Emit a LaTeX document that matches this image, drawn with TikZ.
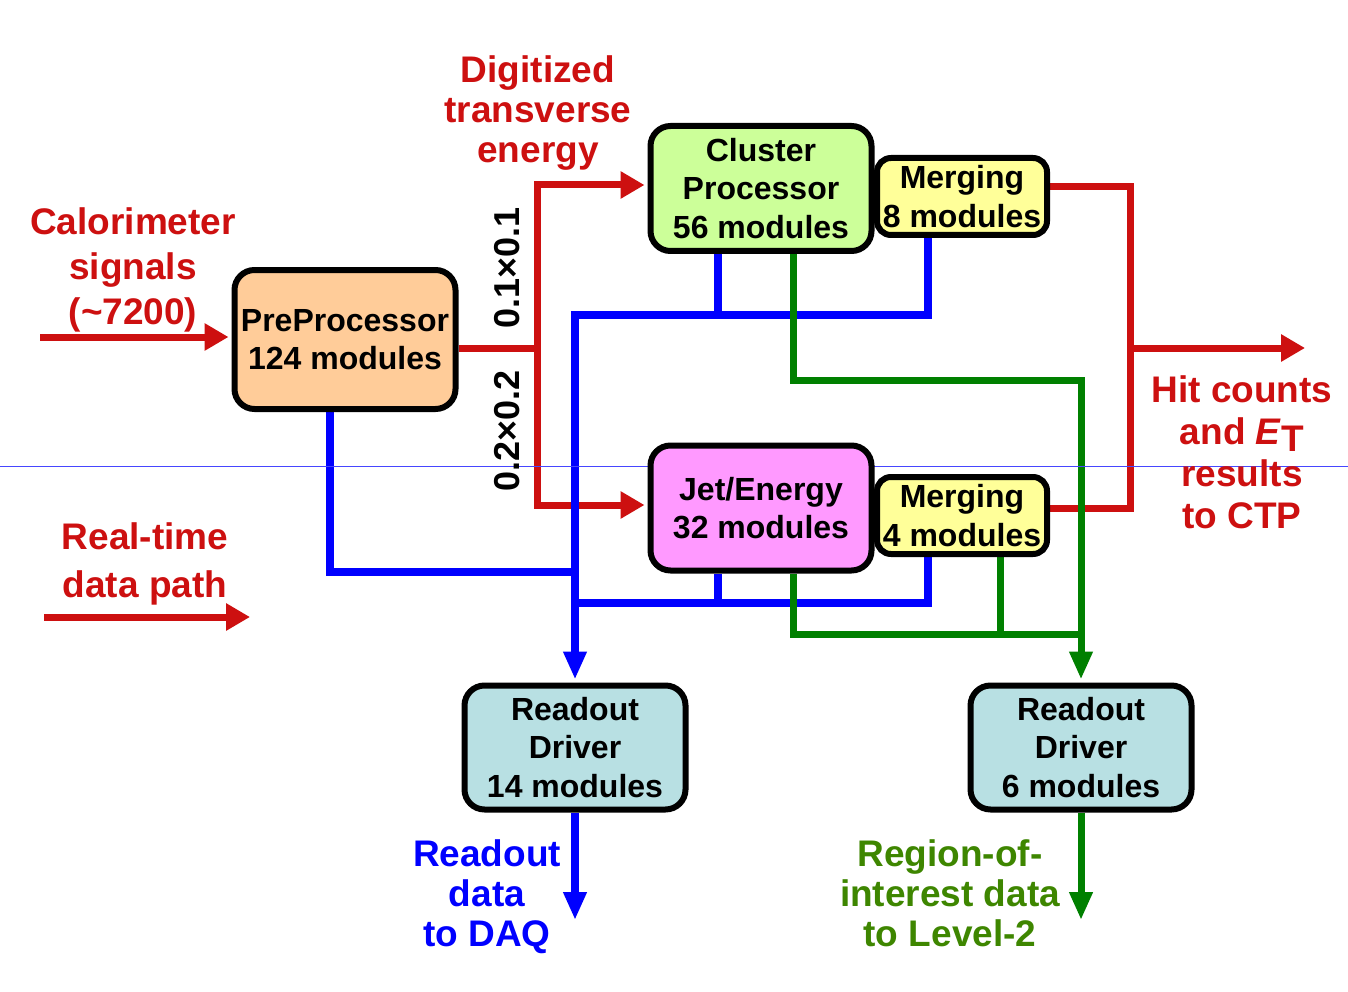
\documentclass[tikz,border=0pt]{standalone}
\usepackage{fontspec}
\setmainfont{Liberation Sans}
\usetikzlibrary{arrows.meta,backgrounds}
\definecolor{cred}{RGB}{205,16,16}
\definecolor{cblue}{RGB}{0,0,255}
\definecolor{cgreen}{RGB}{0,128,0}
\definecolor{ctgreen}{RGB}{62,134,0}
\definecolor{cthin}{RGB}{70,70,255}
\definecolor{fpeach}{RGB}{255,204,153}
\definecolor{fgreen}{RGB}{204,255,153}
\definecolor{fyellow}{RGB}{255,255,153}
\definecolor{fpink}{RGB}{255,153,255}
\definecolor{fcyan}{RGB}{184,224,227}
\begin{document}
\begin{tikzpicture}[x=1pt,y=-1pt,
  blk/.style={draw=black, line width=6pt, rounded corners=20pt, inner sep=0pt, align=center,
    font=\bfseries\fontsize{32}{38.5}\selectfont},
  mrg/.style={blk, rounded corners=14pt, fill=fyellow},
  lbl/.style={font=\bfseries\fontsize{37}{43}\selectfont, align=center, inner sep=0pt},
  rot/.style={font=\bfseries\fontsize{36}{40}\selectfont, inner sep=0pt, rotate=90},
  rl/.style={draw=cred, line width=7pt, line join=miter},
  bl/.style={draw=cblue, line width=8pt, line join=miter},
  gl/.style={draw=cgreen, line width=7pt, line join=miter},
  tipR/.style={-{Triangle[length=24pt,width=26pt]}},
  tipD/.style={-{Triangle[length=28pt,width=22pt]}}
]
\useasboundingbox (0,0) rectangle (1348,992);

% boxes
\node[blk, fill=fpeach, minimum width=221pt, minimum height=139pt] (pp) at (345,339.5) {PreProcessor\\124 modules};
\node[blk, fill=fgreen, minimum width=221pt, minimum height=125pt] (cp) at (761,188.5) {Cluster\\Processor\\56 modules};
\node[mrg, minimum width=170pt, minimum height=77pt] (m8) at (962,196.5) {Merging\\8 modules};
\node[blk, fill=fpink, minimum width=221pt, minimum height=125pt] (je) at (761,508) {Jet/Energy\\32 modules};
\node[mrg, minimum width=170pt, minimum height=77pt] (m4) at (962,515.5) {Merging\\4 modules};
\node[blk, fill=fcyan, minimum width=221pt, minimum height=124pt] (rd1) at (575,747.5) {Readout\\Driver\\14 modules};
\node[blk, fill=fcyan, minimum width=221pt, minimum height=124pt] (rd2) at (1081,747.5) {Readout\\Driver\\6 modules};

% labels
\node[lbl, text=cred, font=\bfseries\fontsize{37}{40}\selectfont] (ldig) at (538,113) {Digitized\\transverse\\energy};
\node[lbl, text=cred, font=\bfseries\fontsize{37}{45}\selectfont] (lcal) at (133,270) {Calorimeter\\signals\\(\char`~7200)};
\node[lbl, text=cred, font=\bfseries\fontsize{37}{48}\selectfont] (lrt) at (145,564) {Real-time\\data path};
\node[lbl, text=cred, font=\bfseries\fontsize{37}{42}\selectfont] (lhit) at (1242,452) {Hit counts\\and \textit{E}\raisebox{-7pt}{T}\\results\\to CTP};
\node[lbl, text=cblue, font=\bfseries\fontsize{37}{40}\selectfont] (ldaq) at (487,897) {Readout\\data\\to DAQ};
\node[lbl, text=ctgreen, font=\bfseries\fontsize{37}{40}\selectfont] (lroi) at (950,893) {Region-of-\\interest data\\to Level-2};
\node[rot] (g11) at (507,268) {0.1×0.1};
\node[rot] (g22) at (507,431) {0.2×0.2};

% junction coordinates
\coordinate (cin) at (40,337);
\coordinate (rj) at (537,348);
\coordinate (rt) at (537,185);
\coordinate (rb) at (537,505);
\coordinate (rr1) at (1130,187);
\coordinate (rr2) at (1130,508);
\coordinate (rrm) at (1130,348);
\coordinate (ctp) at (1305,348);
\coordinate (lg1) at (44,617);
\coordinate (lg2) at (250,617);
\coordinate (b0) at (575,315);
\coordinate (b1) at (718,315);
\coordinate (b2) at (928,315);
\coordinate (b3) at (718,603);
\coordinate (b4) at (928,603);
\coordinate (b5) at (575,603);
\coordinate (b6) at (330,572);
\coordinate (b7) at (575,572);
\coordinate (daq) at (575,920);
\coordinate (g1) at (793,380);
\coordinate (g2) at (1081,380);
\coordinate (g3) at (793,634);
\coordinate (g4) at (1081,634);
\coordinate (g5) at (1000,634);
\coordinate (lv2) at (1081,920);
\coordinate (hl) at (0,466);
\coordinate (hr) at (1348,466);

\begin{scope}[on background layer]
\fill[white] (0,0) rectangle (1348,992);
% red real-time path
\draw[rl, tipR, shorten >=3pt] (cin) -- (pp.west |- cin);
\draw[rl] (pp.east |- rj) -- (rj);
\draw[rl, {Triangle[length=24pt,width=26pt]}-{Triangle[length=24pt,width=26pt]}, shorten <=3pt, shorten >=3pt]
  (cp.west |- rt) -- (rt) -- (rb) -- (je.west |- rb);
\draw[rl] (m8.east |- rr1) -- (rr1) -- (rr2) -- (m4.east |- rr2);
\draw[rl, tipR] (rrm) -- (ctp);
\draw[rl, tipR] (lg1) -- (lg2);
% blue readout path
\draw[bl] (cp.south -| b1) -- (b1);
\draw[bl, tipD, shorten >=3pt] (m8.south -| b2) -- (b2) -- (b0) -- (rd1.north);
\draw[bl] (je.south -| b3) -- (b3);
\draw[bl] (m4.south -| b4) -- (b4) -- (b5);
\draw[bl] (pp.south -| b6) -- (b6) -- (b7);
\draw[bl, tipD] (rd1.south) -- (daq);
% green RoI path
\draw[gl, tipD, shorten >=3pt] (cp.south -| g1) -- (g1) -- (g2) -- (rd2.north);
\draw[gl] (je.south -| g3) -- (g3) -- (g4);
\draw[gl] (m4.south -| g5) -- (g5);
\draw[gl, tipD] (rd2.south) -- (lv2);
% thin guide line
\draw[cthin, line width=1pt] (hl) -- (hr);
\end{scope}
\end{tikzpicture}
\end{document}
